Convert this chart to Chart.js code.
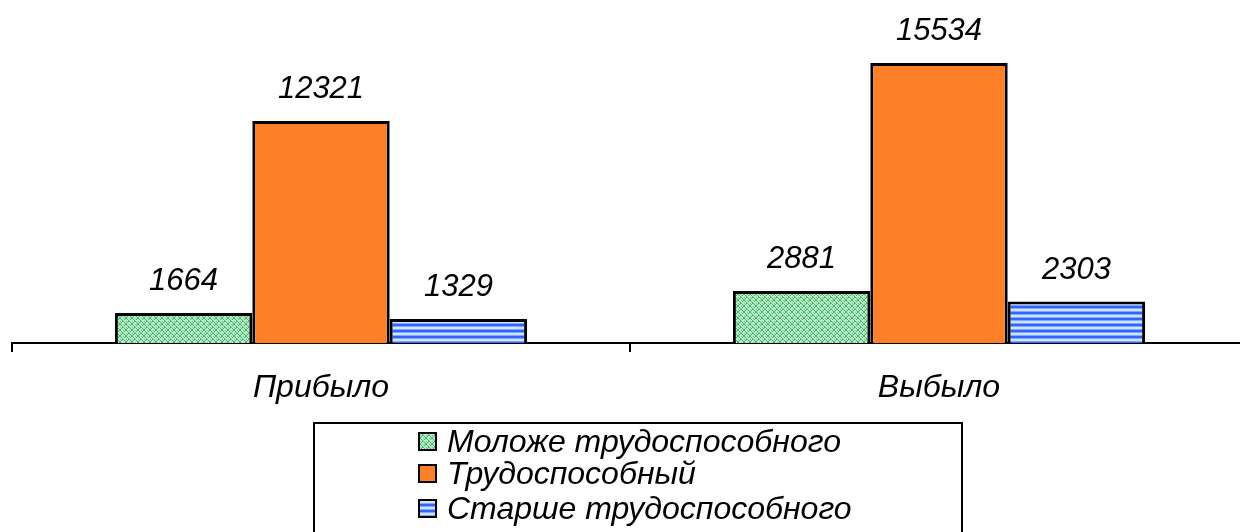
<!DOCTYPE html>
<html><head><meta charset="utf-8">
<script src="https://cdn.jsdelivr.net/npm/chart.js@4"></script>
<style>
html,body{margin:0;padding:0;background:#fff;overflow:hidden;width:1240px;height:532px;}
#wrap{width:1240px;height:532px;overflow:hidden;position:relative;}
canvas{display:block;}
</style></head>
<body><div id="wrap"><canvas id="c" width="1248" height="532"></canvas></div>
<script>
const categories = ['Прибыло', 'Выбыло'];
const seriesNames = ['Моложе трудоспособного', 'Трудоспособный', 'Старше трудоспособного'];
const youngerValues = [1664, 2881];
const workingValues = [12321, 15534];
const olderValues = [1329, 2303];

const FONT = '"Liberation Sans", Arial, sans-serif';

function makeTile(w, h, draw) {
  const c = document.createElement('canvas');
  c.width = w; c.height = h;
  const g = c.getContext('2d');
  draw(g);
  return document.getElementById('c').getContext('2d').createPattern(c, 'repeat');
}
const greenPat = makeTile(6, 6, g => {
  g.fillStyle = '#b4ecc4'; g.fillRect(0, 0, 6, 6);
  g.fillStyle = '#4fae74';
  const pts = [[0,0],[1,1],[2,2],[3,3],[4,4],[5,5],[5,0],[4,1],[2,3],[1,4],[0,5]];
  pts.forEach(p => g.fillRect(p[0], p[1], 1, 1));
  g.fillStyle = '#7ccc98';
  g.fillRect(3, 0, 1, 1); g.fillRect(0, 3, 1, 1);
});
const orangeFill = '#fd7f27';
const bluePat = makeTile(6, 6, g => {
  g.fillStyle = '#3462ff'; g.fillRect(0, 0, 6, 6);
  g.fillStyle = '#80a8ff'; g.fillRect(0, 2, 6, 1); g.fillRect(0, 5, 6, 1);
  g.fillStyle = '#cfe4ff'; g.fillRect(0, 3, 6, 2);
});
const fills = [greenPat, orangeFill, bluePat];

const valueLabels = {
  id: 'valueLabels',
  afterDatasetsDraw(chart) {
    const ctx = chart.ctx;
    ctx.save();
    ctx.font = 'italic 31px ' + FONT;
    ctx.fillStyle = '#000';
    ctx.textAlign = 'center';
    ctx.textBaseline = 'alphabetic';
    chart.data.datasets.forEach((ds, i) => {
      chart.getDatasetMeta(i).data.forEach((bar, j) => {
        ctx.fillText(String(ds.data[j]), bar.x, bar.y - 23);
      });
    });
    ctx.restore();
  }
};

const boxLegend = {
  id: 'boxLegend',
  afterDraw(chart) {
    const ctx = chart.ctx;
    ctx.save();
    ctx.strokeStyle = '#000';
    ctx.lineWidth = 2;
    ctx.strokeRect(314, 423, 648, 130);
    ctx.font = 'italic 32px ' + FONT;
    ctx.textBaseline = 'middle';
    ctx.textAlign = 'left';
    const rowY = [442, 474, 509];
    chart.data.datasets.forEach((ds, i) => {
      const y = rowY[i];
      ctx.fillStyle = fills[i];
      ctx.fillRect(419, y - 9, 17, 17);
      ctx.lineWidth = 2;
      ctx.strokeStyle = '#000';
      ctx.strokeRect(419, y - 9, 17, 17);
      ctx.fillStyle = '#000';
      ctx.fillText(ds.label, 447, y + 1);
    });
    ctx.restore();
  }
};

new Chart(document.getElementById('c'), {
  type: 'bar',
  data: {
    labels: categories,
    datasets: [
      { label: seriesNames[0], data: youngerValues, backgroundColor: greenPat },
      { label: seriesNames[1], data: workingValues, backgroundColor: orangeFill },
      { label: seriesNames[2], data: olderValues, backgroundColor: bluePat }
    ].map(d => Object.assign(d, { borderColor: '#000', borderWidth: 3, borderSkipped: 'bottom', categoryPercentage: 0.667, barPercentage: 1.0 }))
  },
  options: {
    responsive: false,
    animation: false,
    layout: { padding: { left: 12, right: 0, top: 0, bottom: 0 } },
    plugins: { legend: { display: false }, tooltip: { enabled: false } },
    scales: {
      x: {
        offset: true,
        grid: { display: true, drawOnChartArea: false, drawTicks: true, tickLength: 9, color: '#000', lineWidth: 2, offset: true },
        border: { display: true, color: '#000', width: 2 },
        ticks: { color: '#000', font: { family: FONT, size: 32, style: 'italic' }, padding: 17 },
        afterFit(scale) { scale.height = 532 - 343; }
      },
      y: {
        display: false,
        min: 0,
        max: 19036
      }
    }
  },
  plugins: [valueLabels, boxLegend]
});
</script>
</body></html>
